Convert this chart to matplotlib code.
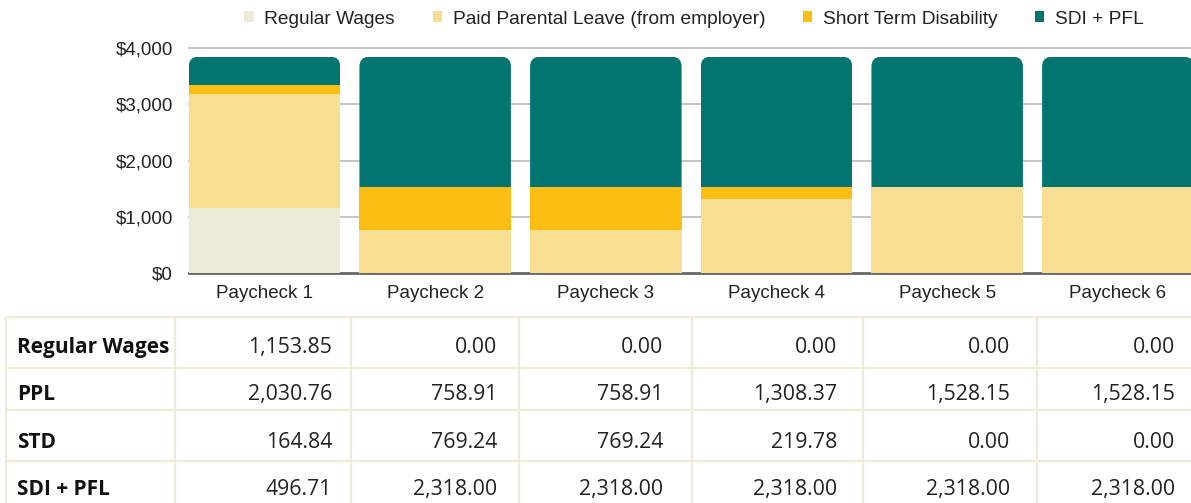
import matplotlib
matplotlib.use("Agg")
import matplotlib.pyplot as plt
from matplotlib.patches import FancyBboxPatch, Patch
from matplotlib.ticker import FuncFormatter

# ---------------- data ----------------
categories = ["Paycheck 1", "Paycheck 2", "Paycheck 3", "Paycheck 4", "Paycheck 5", "Paycheck 6"]
regular_wages = [1153.85, 0.00, 0.00, 0.00, 0.00, 0.00]
ppl = [2030.76, 758.91, 758.91, 1308.37, 1528.15, 1528.15]
std = [164.84, 769.24, 769.24, 219.78, 0.00, 0.00]
sdi_pfl = [496.71, 2318.00, 2318.00, 2318.00, 2318.00, 2318.00]
series_names = ["Regular Wages", "Paid Parental Leave (from employer)", "Short Term Disability", "SDI + PFL"]
row_labels = ["Regular Wages", "PPL", "STD", "SDI + PFL"]
y_ticks = [0, 1000, 2000, 3000, 4000]

# ---------------- style ----------------
colors = ["#EDEBD7", "#F8DE93", "#FDBE14", "#037570"]
W, H = 1191, 503
CHART_FONT = "Liberation Sans"
TABLE_FONT = "Open Sans"
FS = 13.5

fig = plt.figure(figsize=(W / 100, H / 100), dpi=100)

# chart axes in pixel layout
px_left, px_right = 189, 1191
px_zero, px_per_k = 273, 56.25
ymax = 4100
px_top = px_zero - ymax / 1000 * px_per_k
ax = fig.add_axes([px_left / W, (H - px_zero) / H, (px_right - px_left) / W, (px_zero - px_top) / H])

step = 170.67
bar_w_px = 151.5
x0_center = 264.5
xmin = (px_left - x0_center) / step
xmax = (px_right - x0_center) / step
ax.set_xlim(xmin, xmax)
ax.set_ylim(0, ymax)
bw = bar_w_px / step

xs = list(range(len(categories)))
series = [regular_wages, ppl, std, sdi_pfl]
bottom = [0.0] * len(xs)
containers = []
for vals, c in zip(series, colors):
    cont = ax.bar(xs, vals, width=bw, bottom=bottom, color=c, edgecolor="none", zorder=3)
    containers.append(cont)
    bottom = [b + v for b, v in zip(bottom, vals)]

# rounded top corners for the top segment
xu_per_px = (xmax - xmin) / (px_right - px_left)
yu_per_px = ymax / (px_zero - px_top)
aspect = yu_per_px / xu_per_px
r = 10 * xu_per_px
for rect in containers[-1]:
    x, y = rect.get_x(), rect.get_y()
    w, h = rect.get_width(), rect.get_height()
    clip = FancyBboxPatch((x, y - 5000), w, h + 5000,
                          boxstyle=f"round,pad=0,rounding_size={r}",
                          mutation_aspect=aspect, transform=ax.transData)
    rect.set_clip_path(clip)

# grid and baseline
for t in y_ticks[1:]:
    ax.axhline(t, color="#BFBFBF", lw=1.3, zorder=1, clip_on=False)
ax.axhline(0, color="#666666", lw=2.0, zorder=2, clip_on=False)

for s in ax.spines.values():
    s.set_visible(False)
ax.set_yticks(y_ticks)
ax.yaxis.set_major_formatter(FuncFormatter(lambda v, p: f"${v:,.0f}"))
ax.set_xticks(xs)
ax.set_xticklabels(categories)
ax.tick_params(axis="y", length=0, pad=11.5, labelsize=FS, labelcolor="#222222")
ax.tick_params(axis="x", length=0, pad=9, labelsize=FS, labelcolor="#222222")
for lab in ax.get_xticklabels() + ax.get_yticklabels():
    lab.set_fontfamily(CHART_FONT)

# legend
handles = [Patch(facecolor=c, edgecolor="none") for c in colors]
leg = fig.legend(handles, series_names, loc="center", ncol=4,
                 bbox_to_anchor=(694 / W, 1 - 19 / H), bbox_transform=fig.transFigure,
                 frameon=False, handlelength=0.5, handleheight=0.5, handletextpad=0.55,
                 columnspacing=1.95, prop={"family": CHART_FONT, "size": 13.8})
for t in leg.get_texts():
    t.set_color("#222222")

# ---------------- table ----------------
tax = fig.add_axes([0, 0, 1, 1])
tax.set_xlim(0, W)
tax.set_ylim(H, 0)
tax.axis("off")

line_c = "#EFEBD9"
col_x = [6, 175, 351, 519, 692, 863, 1037]
row_y = [317, 368, 410, 461]
for yy in row_y:
    tax.plot([6, W + 5], [yy, yy], color=line_c, lw=1.6, solid_capstyle="butt", clip_on=False)
for xx in col_x:
    tax.plot([xx, xx], [row_y[0], H + 5], color=line_c, lw=1.6, solid_capstyle="butt", clip_on=False)

baselines = [353, 400, 448, 495]
num_right = [332, 497, 663, 837, 1010, 1175]
table_rows = [regular_wages, ppl, std, sdi_pfl]
for yb, lab, vals in zip(baselines, row_labels, table_rows):
    tax.text(17, yb, lab, ha="left", va="baseline", fontsize=15, fontweight="bold",
             family=TABLE_FONT, color="#111111")
    for xr, v in zip(num_right, vals):
        tax.text(xr, yb, f"{v:,.2f}", ha="right", va="baseline", fontsize=15.3,
                 family=TABLE_FONT, color="#222222")

fig.savefig("out.png", dpi=100)
